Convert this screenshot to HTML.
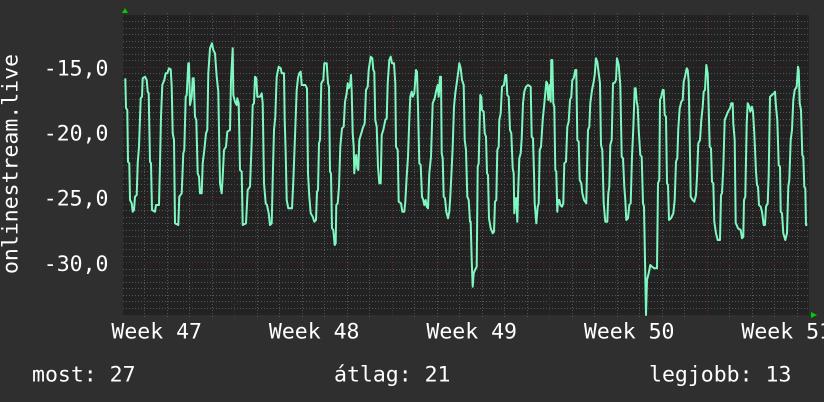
<!DOCTYPE html>
<html><head><meta charset="utf-8"><style>
html,body{margin:0;padding:0;background:#2f2f2f;}
svg{display:block;}
text{font-family:"DejaVu Sans Mono","Liberation Mono",monospace;font-size:21.5px;fill:#ffffff;}
</style></head><body>
<svg width="824" height="402" viewBox="0 0 824 402" xmlns="http://www.w3.org/2000/svg">
<rect x="0" y="0" width="824" height="402" fill="#2f2f2f"/>
<rect x="123" y="15" width="686" height="300" fill="#222222"/>
<g stroke="#555555" stroke-width="1" stroke-dasharray="1,2" shape-rendering="crispEdges">
<path d="M123 21.5H810M123 28.5H810M123 34.5H810M123 41.5H810M123 47.5H810M123 54.5H810M123 60.5H810M123 73.5H810M123 80.5H810M123 86.5H810M123 93.5H810M123 99.5H810M123 106.5H810M123 112.5H810M123 119.5H810M123 125.5H810M123 138.5H810M123 145.5H810M123 151.5H810M123 158.5H810M123 165.5H810M123 171.5H810M123 178.5H810M123 184.5H810M123 191.5H810M123 204.5H810M123 210.5H810M123 217.5H810M123 223.5H810M123 230.5H810M123 236.5H810M123 243.5H810M123 249.5H810M123 256.5H810M123 269.5H810M123 275.5H810M123 282.5H810M123 288.5H810M123 295.5H810M123 301.5H810M123 308.5H810"/>
<path d="M144.5 13V317M167.5 13V317M189.5 13V317M212.5 13V317M257.5 13V317M279.5 13V317M302.5 13V317M324.5 13V317M347.5 13V317M369.5 13V317M414.5 13V317M437.5 13V317M459.5 13V317M482.5 13V317M504.5 13V317M527.5 13V317M572.5 13V317M594.5 13V317M617.5 13V317M639.5 13V317M662.5 13V317M684.5 13V317M729.5 13V317M752.5 13V317M774.5 13V317M797.5 13V317"/>
</g>
<g stroke="#642a2a" stroke-width="1" stroke-dasharray="1,2" shape-rendering="crispEdges">
<path d="M123 67.5H810M123 132.5H810M123 197.5H810M123 262.5H810"/>
<path d="M234.5 13V317M392.5 13V317M549.5 13V317M707.5 13V317"/>
</g>
<polygon points="122,13 128,13 125,8" fill="#00cc00"/>
<polygon points="811,312 811,318 817,315" fill="#00cc00"/>
<polyline fill="none" stroke="#7ff7c0" stroke-width="2" stroke-linejoin="round" points="125.3,78.3 126,108 127.3,110 128,161.7 129.3,163.3 130,200 131.7,203.3 132.7,211.7 134,210 135,196.7 136.7,195 137.7,163.3 139,146.7 140.7,98.3 142,96.7 142.7,78.3 145,76.7 146.7,80 147.7,91.7 148.7,93.3 150,161.7 151,163.3 152,210 155,211.7 156,205 159,205 160,163.3 161,116.7 162.3,85 164.3,80 165.7,73.3 167.3,73.3 169,68.3 170.7,69.3 171.7,86.7 172.7,133.3 174,140 175,223.3 178.3,225 179.3,196.7 181.7,193.3 183.3,153.3 184.3,150 185.7,96.7 186.7,95 188.3,63.3 189,63.3 190,105 191.7,96.7 192.7,78.3 193.7,78.3 195,116.7 196.3,120 197.7,173.3 199,176.7 200,193.3 201.7,193.3 202.7,163.3 204.3,150 206,133.3 207.3,130 208.3,73.3 210,48.3 212,43.3 213.3,50 215,53.3 216.7,76.7 218.3,91.7 219.3,146.7 220,183.3 221.7,193.3 222.7,176.7 224,150 226,146.7 227.3,131.7 230,130 231,80 232.7,48.3 233.3,95 235,101.7 236.7,105 237.3,98.3 238.7,103.3 239.3,133.3 240,170 241.7,171.7 242.7,225 246,223.3 247.7,190 250,186.7 251.7,141.7 252.7,105 254,103.3 255,76.7 256.3,78.3 257.3,96.7 260,96.7 261.7,93.3 262.7,103.3 264,183.3 265.7,203.3 267,205 268.7,213.3 270,225 271.7,223.3 272.7,180 274,130 275.3,116.7 276.7,76.7 278.7,66.7 280.7,68.3 281.7,73.3 284,73.3 284.7,120 285.7,153.3 286.7,200 288.3,208.3 292,208.3 293.3,181.7 295,136.7 296.7,90 298,78 299.3,73.3 300.7,71.7 301.7,85 305.3,85 307,88.3 308,173.3 309.3,196.7 310.7,213.3 312.7,216.7 314.3,221.7 316,220 317,191.7 318,190 319,143.3 320,140 321.3,83.3 323.3,80 324.3,63.3 326.7,63.3 328,83.3 329,86.7 330,171.7 331,173.3 332,228.3 333.3,230 334.7,245 335.7,243.3 336.3,205 337.7,203.3 339,186.7 340.3,146.7 342,128.3 343.7,126.7 345,101.7 346.7,93.3 347.7,83.3 348.7,88.3 350,85 351,75 351.7,91.7 352.7,133.3 353.7,146.7 354.3,173.3 355.3,160 356.3,155 357.3,168.3 358.3,170 359.3,140 361.3,133.3 362.7,128.3 364.7,123.3 366,90 367.7,86.7 368.7,70 370.7,56.7 372.3,58.3 373.3,70 374.3,71.7 375.3,120 376.7,126.7 378,166.7 379.3,183.3 380.7,183.3 381.7,135 383.3,130 385.3,120 386.7,118.3 387.7,83.3 389.3,60 390.7,56.7 392,63.3 394,63.3 395.3,83.3 396,146.7 397.7,150 398.7,201.7 401,203.3 402.3,211.7 404.3,211.7 405.3,201.7 406.7,176.7 408,156.7 409.3,120 410.3,96.7 411.7,91.7 412.7,96.7 414.3,93.3 416,70 417,71.7 418,106.7 419.3,163.3 420.7,165 422,196.7 423.3,200 424.3,205 425.7,200 426.7,206.7 428,208.3 429.3,173.3 431,156.7 432.7,103.3 434.7,98.3 436,91.7 437.7,85 438.7,96.7 440,76.7 441,76.7 441.7,153.3 442.7,158.3 443.7,196.7 445,198.3 446.3,211.7 448,218.3 449.3,211.7 450.3,196.7 451.3,176.7 452.7,146.7 454,106.7 455.3,93.3 456.7,83.3 458.3,71.7 459.3,63.3 460.7,68.3 462,80 463.7,85 464.7,140 466,150 467.3,196.7 468.7,200 470,221.7 470.7,221.7 471.7,260 472.7,286.7 473.7,273.3 475,270 476.7,266.7 477.7,166.7 478.7,163.3 480.3,95 481.3,96.7 482,110 483.7,111.7 484.7,133.3 486,136.7 487,173.3 488,175 489,218.3 490.7,228.3 492.7,233.3 494,231.7 495,201.7 496.3,200 497.3,150 498.7,146.7 499.3,120 500.7,113.3 502,86.7 504,85 505.3,75 506.3,75 507.3,95 508.7,96.7 510,130 511.3,133.3 512.7,168.3 513.7,173.3 514.3,213.3 515.3,198.3 516.3,198.3 517.3,221.7 518.3,186.7 519.3,158.3 520.7,153.3 521.7,138.3 523,103.3 524.3,91.7 526,86.7 528,85 530.7,86.7 531.7,136.7 533,138.3 534,173.3 534.7,203.3 536.3,223.3 537.7,206.7 538.7,203.3 539.7,150 541,146.7 542.7,120 544,106.7 545.3,93.3 546.3,81.7 547.3,83.3 548.3,100 549.7,85 550.7,101.7 551.3,60 552.3,60 553.3,103.3 554.3,106.7 555.3,170 556.3,171.7 557.3,211.7 558,200 559.3,200 560.3,205 562,206.7 563.3,203.3 564.3,163.3 566,161.7 567.3,126.7 568.7,121.7 570,100 571.3,96.7 572.3,80 573.7,78.3 575.3,70 576.3,70 577.3,140 578.7,141.7 579.7,180 581.3,183.3 582.3,193.3 584,200 586.3,203.3 587,170 588,130 589.3,126.7 590.3,103.3 592,90 593.7,81.7 594.7,75 596,58.3 597.3,61.7 598.7,73.3 600,83.3 601,145 602.3,150 603.7,203.3 605.3,221.7 607.3,221.7 608.3,193.3 609.3,186.7 610.3,145 611.7,140 613,83.3 614.7,82.7 616,80 617,58.3 618.7,65 620.3,85 621.7,156.7 623,158.3 624.3,186.7 625.3,200 626.3,220 628,218.3 629.3,205 630.7,203.3 632,156.7 633.3,128.3 634.7,88.3 635.7,88.3 636.7,101.7 637.7,106.7 638.7,130 640.3,155 641.7,156.7 643,203.3 644,206.7 645,260 646,315 647,280 648.7,273.3 650.3,265 652,266.7 654.3,268.3 657,268.3 658,183.3 659.3,180 660,100 661.3,96.7 662.7,90 663.7,90 664.7,115 666,116.7 667,183.3 668,185 669,220 671,218.3 673.3,213.3 674.7,200 676,161.7 677.3,158.3 678.3,128.3 679.7,108.3 681.3,101.7 682.7,100 683.7,81.7 685,76.7 686.7,68.3 687.7,70 688.7,81.7 689.3,113.3 690.7,196.7 692.7,200 694.3,201.7 696,195 697,176.7 698.3,143.3 700,140 701.3,120 702.7,106.7 703.7,91.7 705,90 706.3,65 707.7,73.3 708.3,93.3 709.7,146.7 711,148.3 712,181.7 713.3,183.3 714.3,221.7 716,233.3 717.7,240 720,240 721,195 722,193.3 723.3,168.3 724.7,120 726,116.7 728,111.7 730,108.3 731.3,103.3 732.7,103.3 733.3,123.3 734.7,140 735.7,223.3 736.7,225 738,228.3 740.7,230 742,238.3 743.3,236.7 744,200 745.3,196.7 746.7,123.3 747.7,103.3 749.3,106.7 750.3,111.7 752,106.7 753,111.7 754.3,133.3 756,171.7 757,185 758,186.7 759,205 760.7,206.7 762,211.7 763.7,225 765,225 766,206.7 767.7,203.3 768.7,175 770,96.7 772,95 774,93.3 775,91.7 776,106.7 777.3,120 778.7,165 780,166.7 780.7,211.7 782,213.3 783.3,233.3 785.3,240 787,233.3 788.3,186.7 789.3,180 790.7,140 792,130 793.3,100 794.7,90 796.7,86.7 798,66.7 798.7,70 799.7,103.3 801,110 802.3,155 803.3,156.7 804.3,186.7 805.3,188.3 806,225 807.3,225"/>
<g text-anchor="end">
<text x="108.5" y="75.3">-15,0</text>
<text x="108.5" y="140.5">-20,0</text>
<text x="108.5" y="205.6">-25,0</text>
<text x="108.5" y="270.8">-30,0</text>
</g>
<text x="17.5" y="164" text-anchor="middle" transform="rotate(-90 17.5 164)">onlinestream.live</text>
<g text-anchor="middle">
<text x="156.7" y="338.3">Week 47</text>
<text x="314.2" y="338.3">Week 48</text>
<text x="471.7" y="338.3">Week 49</text>
<text x="629.2" y="338.3">Week 50</text>
<text x="786.7" y="338.3">Week 51</text>
</g>
<text x="32" y="381.5">most: 27</text>
<text x="334" y="381.5">átlag: 21</text>
<text x="649" y="381.5">legjobb: 13</text>
</svg>
</body></html>
